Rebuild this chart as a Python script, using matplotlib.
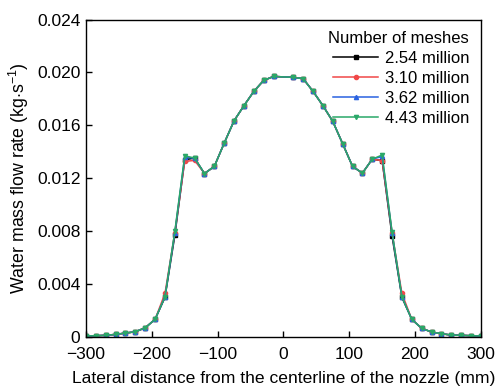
import numpy as np
import matplotlib
matplotlib.use('Agg')
from matplotlib import pyplot as plt

plt.rcParams['font.family'] = ['Arial', 'Liberation Sans', 'DejaVu Sans']
plt.rcParams['mathtext.fontset'] = 'custom'
plt.rcParams['mathtext.rm'] = 'Liberation Sans'

# lateral positions (mm), no point at 0
x_left = [-300, -285, -270, -255, -240, -225, -210, -195, -180, -165,
          -150, -135, -120, -105, -90, -75, -60, -45, -30, -15]
x_right = [15, 30, 45, 60, 75, 90, 105, 120, 135, 150,
           165, 180, 195, 210, 225, 240, 255, 270, 285, 300]
x = np.array(x_left + x_right)

# 4.43 million (green)
y_443 = [0.00008, 0.0001, 0.00013, 0.0002, 0.0003, 0.0004, 0.0007, 0.00134, 0.00305, 0.0080,
         0.0137, 0.01353, 0.01236, 0.0129, 0.01466, 0.01635, 0.01749, 0.01857, 0.0194, 0.0197,
         0.01963, 0.01953, 0.01857, 0.01749, 0.0163, 0.01461, 0.0129, 0.01239, 0.01345, 0.01376,
         0.00797, 0.00305, 0.00134, 0.00066, 0.00038, 0.00025, 0.00015, 0.00013, 0.0001, 0.00008]
y_362 = list(y_443)
y_362[10] = 0.01362
y_362[11] = 0.0135
y_362[29] = 0.01365
y_362[9] = 0.0079
y_362[30] = 0.0079
y_310 = list(y_443)
y_310[10] = 0.01328
y_310[11] = 0.01335
y_310[29] = 0.01333
y_310[8] = 0.0033
y_310[31] = 0.0033
y_310[9] = 0.0079
y_310[30] = 0.0079
y_254 = list(y_443)
y_254[10] = 0.0134
y_254[29] = 0.01333
y_254[9] = 0.0077
y_254[30] = 0.00765
y_254[8] = 0.0030
y_254[31] = 0.0030

labels = ['2.54 million', '3.10 million', '3.62 million', '4.43 million']
series = [y_254, y_310, y_362, y_443]
colors = ['#000000', '#f04848', '#2a62e0', '#2aa868']
markers = ['s', 'o', '^', 'v']

fig = plt.figure(figsize=(5.03, 3.91), dpi=100)
ax = fig.add_axes([0.171, 0.138, 0.785, 0.812])

for ys, lab, c, m in zip(series, labels, colors, markers):
    ax.plot(x, ys, color=c, marker=m, markersize=3, linewidth=1.1, label=lab)

ax.set_xlim(-300, 300)
ax.set_ylim(0, 0.024)
ax.set_xticks([-300, -200, -100, 0, 100, 200, 300])
ax.set_yticks([0, 0.004, 0.008, 0.012, 0.016, 0.020, 0.024])
ax.set_yticklabels(['0', '0.004', '0.008', '0.012', '0.016', '0.020', '0.024'])
ax.tick_params(direction='in', length=4, width=1, labelsize=12.5, top=False, right=False)
ax.tick_params(axis='x', pad=7)
ax.tick_params(axis='y', pad=4)
for s in ax.spines.values():
    s.set_linewidth(1)

ax.set_xlabel('Lateral distance from the centerline of the nozzle (mm)', fontsize=12.6, labelpad=7)
ax.set_ylabel('Water mass flow rate (kg$\\cdot$s$^{-1}$)', fontsize=12.8, labelpad=4)

leg = ax.legend(title='Number of meshes', loc='upper right', frameon=False, fontsize=12,
                title_fontsize=12, handlelength=2.7, labelspacing=0.3, borderaxespad=0.3,
                handletextpad=0.4)
leg._legend_box.align = 'right'

fig.savefig('out.png', dpi=100)
